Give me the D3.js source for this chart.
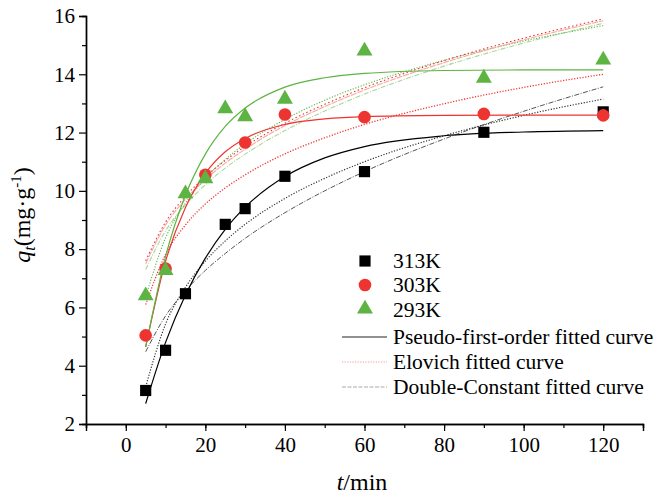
<!DOCTYPE html>
<html>
<head>
<meta charset="utf-8" />
<title></title>
<style>
html, body {
    padding: 0px;
    margin: 0px;
    background: #fff;
}
svg text {
    font-family: "Liberation Serif", "Times New Roman", "DejaVu Serif", serif;
}
</style>
</head>
<body>
<div id="chart"></div>
<script src="https://cdnjs.cloudflare.com/ajax/libs/d3/7.8.5/d3.min.js"></script>
<script>
!(function(){
    "use strict"

    // measured points
    var t313 = [5, 10, 15, 25, 30, 40, 60, 90, 120];
    var q313 = [3.15, 4.53, 6.47, 8.85, 9.39, 10.5, 10.66, 12.01, 12.71];
    var t303 = [5, 10, 20, 30, 40, 60, 90, 120];
    var q303 = [5.04, 7.33, 10.55, 11.66, 12.62, 12.53, 12.64, 12.59];
    var t293 = [5, 10, 15, 20, 25, 30, 40, 60, 90, 120];
    var q293 = [6.4, 7.27, 9.9, 10.42, 12.82, 12.55, 13.15, 14.8, 13.87, 14.49];

    // fitted curves at these times
    var tFit = [5, 10, 15, 20, 25, 30, 40, 50, 60, 80, 100, 120];
    var pfo313 = [2.70, 4.80, 6.43, 7.69, 8.68, 9.44, 10.49, 11.13, 11.52, 11.89, 12.02, 12.07];
    var pfo303 = [4.65, 7.58, 9.43, 10.60, 11.34, 11.80, 12.28, 12.47, 12.55, 12.59, 12.60, 12.60];
    var pfo293 = [4.64, 7.75, 9.85, 11.26, 12.21, 12.84, 13.56, 13.88, 14.03, 14.13, 14.15, 14.15];
    var elo313 = [3.28, 5.43, 6.69, 7.59, 8.28, 8.85, 9.74, 10.43, 11.00, 11.89, 12.59, 13.15];
    var elo303 = [6.10, 7.82, 8.83, 9.55, 10.10, 10.55, 11.27, 11.82, 12.28, 12.99, 13.55, 14.00];
    var elo293 = [6.36, 8.39, 9.58, 10.42, 11.08, 11.61, 12.45, 13.11, 13.64, 14.48, 15.14, 15.67];
    var dc313 = [4.48, 5.71, 6.57, 7.27, 7.85, 8.37, 9.25, 10.00, 10.66, 11.78, 12.73, 13.57];
    var dc303 = [7.60, 8.93, 9.81, 10.49, 11.04, 11.52, 12.32, 12.97, 13.54, 14.47, 15.24, 15.90];
    var dc303b = [7.50, 8.83, 9.71, 10.39, 10.95, 11.43, 12.24, 12.89, 13.46, 14.40, 15.18, 15.84];
    var dc293 = [7.30, 8.63, 9.52, 10.21, 10.78, 11.26, 12.07, 12.74, 13.32, 14.28, 15.07, 15.75];

    var xTicks = [0, 20, 40, 60, 80, 100, 120];
    var yTicks = [2, 4, 6, 8, 10, 12, 14, 16];
    var legendNames = ["313K", "303K", "293K",
        "Pseudo-first-order fitted curve", "Elovich fitted curve", "Double-Constant fitted curve"];

    var W = 654, H = 497;
    var black = "#000", red = "#ee3430", green = "#5db443";
    var serif = "Liberation Serif, Times New Roman, serif";

    var svg = d3.select("#chart").append("svg")
        .attr("width", W).attr("height", H)
        .attr("font-family", serif)

    var x = d3.scaleLinear().domain([-10, 130]).range([86, 643]);
    var y = d3.scaleLinear().domain([2, 16]).range([424, 16]);

    // axes: minor then major
    svg.append("g").attr("transform", "translate(0,424)")
        .call(d3.axisBottom(x).tickValues(d3.range(-10, 131, 10)).tickSize(4).tickFormat(""))
    svg.append("g").attr("transform", "translate(0,424)")
        .call(d3.axisBottom(x).tickValues(xTicks).tickSize(7).tickPadding(6))
        .attr("font-size", 21).attr("font-family", serif)
    svg.append("g").attr("transform", "translate(86,0)")
        .call(d3.axisLeft(y).tickValues(d3.range(3, 16, 2)).tickSize(4).tickFormat(""))
    svg.append("g").attr("transform", "translate(86,0)")
        .call(d3.axisLeft(y).tickValues(yTicks).tickSize(7).tickPadding(4))
        .attr("font-size", 21).attr("font-family", serif)

    svg.selectAll(".domain").attr("stroke-width", 1.4)
    svg.selectAll(".tick line").attr("stroke-width", 1.2)
    svg.selectAll(".tick text").attr("fill", "#000")

    // curves
    var line = d3.line()
        .x(function(d){ return x(d[0]) })
        .y(function(d){ return y(d[1]) })
        .curve(d3.curveMonotoneX)

    var curves = [
        {q: dc313, color: "#555", dash: "5 1.5 1 1.5", w: 1},
        {q: elo313, color: "#333", dash: "1.2 1.6", w: 1.2},
        {q: elo303, color: red, dash: "1.2 1.6", w: 1.3},
        {q: dc293, color: "#a8d898", dash: "5 1.5 1 1.5", w: 1.1},
        {q: elo293, color: green, dash: "1.2 1.6", w: 1.1},
        {q: dc303b, color: "#f5a8a6", dash: "6 1", w: 1.1},
        {q: dc303, color: red, dash: "1.5 2.5", w: 1.1},
        {q: pfo313, color: black, dash: null, w: 1.2},
        {q: pfo303, color: red, dash: null, w: 1.2},
        {q: pfo293, color: green, dash: null, w: 1.2}
    ];

    svg.append("g").selectAll("path")
        .data(curves)
        .enter()
        .append("path")
        .attr("fill", "none")
        .attr("stroke", function(d){ return d.color })
        .attr("stroke-width", function(d){ return d.w })
        .attr("stroke-dasharray", function(d){ return d.dash })
        .attr("d", function(d){ return line(d3.zip(tFit, d.q)) })

    // markers
    var sq = d3.symbol().type(d3.symbolSquare).size(125);
    var ci = d3.symbol().type(d3.symbolCircle).size(125);
    var tr = d3.symbol().type(d3.symbolTriangle).size(110);

    function markers(ts, qs, sym, color) {
        svg.append("g").selectAll("path")
            .data(d3.zip(ts, qs))
            .enter()
            .append("path")
            .attr("d", sym)
            .attr("fill", color)
            .attr("transform", function(d){ return "translate(" + x(d[0]) + "," + y(d[1]) + ")" })
    }
    markers(t313, q313, sq, black)
    markers(t303, q303, ci, red)
    markers(t293, q293, tr, green)

    // legend
    var lg = svg.append("g")
    var rowY = [261, 285, 310, 337, 362, 387];
    var syms = [[sq, black], [ci, red], [tr, green]];
    syms.forEach(function(s, i){
        lg.append("path").attr("d", s[0]).attr("fill", s[1])
            .attr("transform", "translate(365," + (rowY[i] - (i == 2 ? 1 : 0)) + ")")
    })
    var lineKeys = [["#222", null], ["#f29a98", "1.2 1.4"], ["#aaa", "4 1.5"]];
    lineKeys.forEach(function(k, i){
        lg.append("line")
            .attr("x1", 342).attr("x2", 387)
            .attr("y1", rowY[i + 3]).attr("y2", rowY[i + 3])
            .attr("stroke", k[0]).attr("stroke-width", 1.2)
            .attr("stroke-dasharray", k[1])
    })
    lg.selectAll("text")
        .data(legendNames)
        .enter()
        .append("text")
        .attr("x", 393)
        .attr("y", function(d, i){ return rowY[i] + 7 })
        .attr("font-size", 21.5)
        .text(function(d){ return d })

    // axis titles
    var xl = svg.append("text")
        .attr("x", 362).attr("y", 490)
        .attr("text-anchor", "middle")
        .attr("font-size", 24)
    xl.append("tspan").attr("font-style", "italic").text("t")
    xl.append("tspan").text("/min")

    var yl = svg.append("text")
        .attr("transform", "translate(30,215) rotate(-90)")
        .attr("text-anchor", "middle")
        .attr("font-size", 24)
    yl.append("tspan").attr("font-style", "italic").text("q")
    yl.append("tspan").attr("font-style", "italic").attr("font-size", 16).attr("dy", 5).text("t")
    yl.append("tspan").attr("dy", -5).text("(mg·g")
    yl.append("tspan").attr("font-size", 15).attr("dy", -9).text("-1")
    yl.append("tspan").attr("dy", 9).text(")")

}());
</script>
</body>
</html>
